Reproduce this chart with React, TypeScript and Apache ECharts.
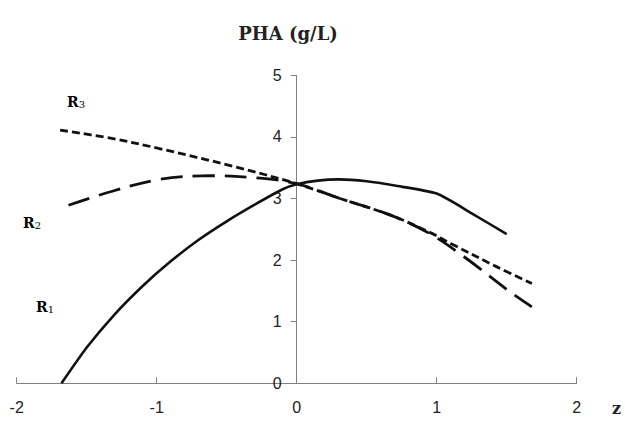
import React, { useEffect, useRef } from "react";
import * as echarts from "echarts";

const r1X = [-1.68, -1.5, -1.3, -1.1, -0.9, -0.7, -0.5, -0.3, -0.1, 0, 0.15, 0.3, 0.5, 0.7, 1.0, 1.25, 1.5];
const r1Y = [0, 0.58, 1.12, 1.58, 1.98, 2.33, 2.63, 2.9, 3.15, 3.23, 3.29, 3.31, 3.28, 3.21, 3.08, 2.76, 2.42];

const r2X = [-1.63, -1.33, -0.98, -0.62, -0.26, 0, 0.31, 0.67, 0.95, 1.21, 1.52, 1.68];
const r2Y = [2.89, 3.11, 3.31, 3.37, 3.33, 3.24, 3.0, 2.73, 2.43, 2.03, 1.49, 1.24];

const r3X = [-1.69, -1.33, -0.98, -0.45, 0, 0.31, 0.67, 0.95, 1.1, 1.43, 1.68];
const r3Y = [4.11, 3.98, 3.81, 3.52, 3.24, 3.0, 2.73, 2.45, 2.27, 1.89, 1.62];

const xTicks = [-2, -1, 0, 1, 2];
const yTicks = [0, 1, 2, 3, 4, 5];

const seriesNames = ["R1", "R2", "R3"];

const pairs = (xs: number[], ys: number[]) => xs.map((x, i) => [x, ys[i]]);

export default function App() {
  const ref = useRef<HTMLDivElement>(null);
  useEffect(() => {
    if (!ref.current) return;
    const chart = echarts.init(ref.current, undefined, { renderer: "svg" });
    const serif = "'DejaVu Serif', serif";
    const labelRich = {
      b: { fontFamily: serif, fontWeight: "bold", fontSize: 14, color: "#222" },
      s: { fontFamily: serif, fontSize: 10, color: "#222", padding: [4, 0, 0, 0] },
    };
    const mkLabel = (name: string, x: number, y: number) => ({
      type: "text",
      x,
      y,
      style: {
        text: `{b|${name[0]}}{s|${name.slice(1)}}`,
        rich: labelRich,
        verticalAlign: "middle",
      },
    });
    const gridLeft = 16.7;
    const gridRight = 48.3;
    const plotW = 625 - gridLeft - gridRight;
    const xMin = xTicks[0];
    const xMax = xTicks[xTicks.length - 1];
    const yAxisShift = ((0 - xMin) / (xMax - xMin)) * plotW;
    chart.setOption({
      animation: false,
      backgroundColor: "#fff",
      title: {
        text: "PHA (g/L)",
        left: 283,
        textAlign: "center",
        top: 19,
        textStyle: { fontFamily: serif, fontWeight: "bold", fontSize: 18, color: "#222" },
      },
      grid: { left: gridLeft, right: gridRight, top: 75.3, bottom: 38.7, outerBoundsMode: "none", containLabel: false },
      xAxis: {
        type: "value",
        min: xMin,
        max: xMax,
        interval: 1,
        splitLine: { show: false },
        axisLine: { lineStyle: { color: "#808080", width: 1 } },
        axisTick: { inside: true, length: 6, lineStyle: { color: "#808080" } },
        axisLabel: {
          margin: 16,
          fontFamily: "'Liberation Sans', Arial, sans-serif",
          fontSize: 16,
          color: "#222",
        },
      },
      yAxis: {
        type: "value",
        min: yTicks[0],
        max: yTicks[yTicks.length - 1],
        interval: 1,
        offset: -yAxisShift,
        splitLine: { show: false },
        axisLine: { show: true, onZero: false, lineStyle: { color: "#808080", width: 1 } },
        axisTick: { show: true, inside: false, length: 6, lineStyle: { color: "#808080" } },
        axisLabel: {
          margin: 15,
          fontFamily: "'Liberation Sans', Arial, sans-serif",
          fontSize: 16,
          color: "#222",
        },
      },
      series: [
        {
          name: seriesNames[0],
          type: "line",
          data: pairs(r1X, r1Y),
          smooth: 0.2,
          showSymbol: false,
          lineStyle: { color: "#111", width: 2.6, type: "solid" },
        },
        {
          name: seriesNames[1],
          type: "line",
          data: pairs(r2X, r2Y),
          smooth: 0.35,
          showSymbol: false,
          lineStyle: { color: "#111", width: 2.8, type: [22, 10] },
        },
        {
          name: seriesNames[2],
          type: "line",
          data: pairs(r3X, r3Y),
          smooth: 0.35,
          showSymbol: false,
          lineStyle: { color: "#111", width: 2.8, type: [8, 4] },
        },
      ],
      graphic: [
        mkLabel(seriesNames[2], 67, 102),
        mkLabel(seriesNames[1], 23, 223),
        mkLabel(seriesNames[0], 36, 307),
        {
          type: "text",
          x: 612,
          y: 408,
          style: {
            text: "z",
            fontFamily: serif,
            fontWeight: "bold",
            fontSize: 16,
            fill: "#222",
            verticalAlign: "middle",
          },
        },
      ],
    });
    return () => chart.dispose();
  }, []);
  return (
    <div
      ref={ref}
      style={{ position: "fixed", left: 0, top: 0, width: 625, height: 422, background: "#fff" }}
    />
  );
}
